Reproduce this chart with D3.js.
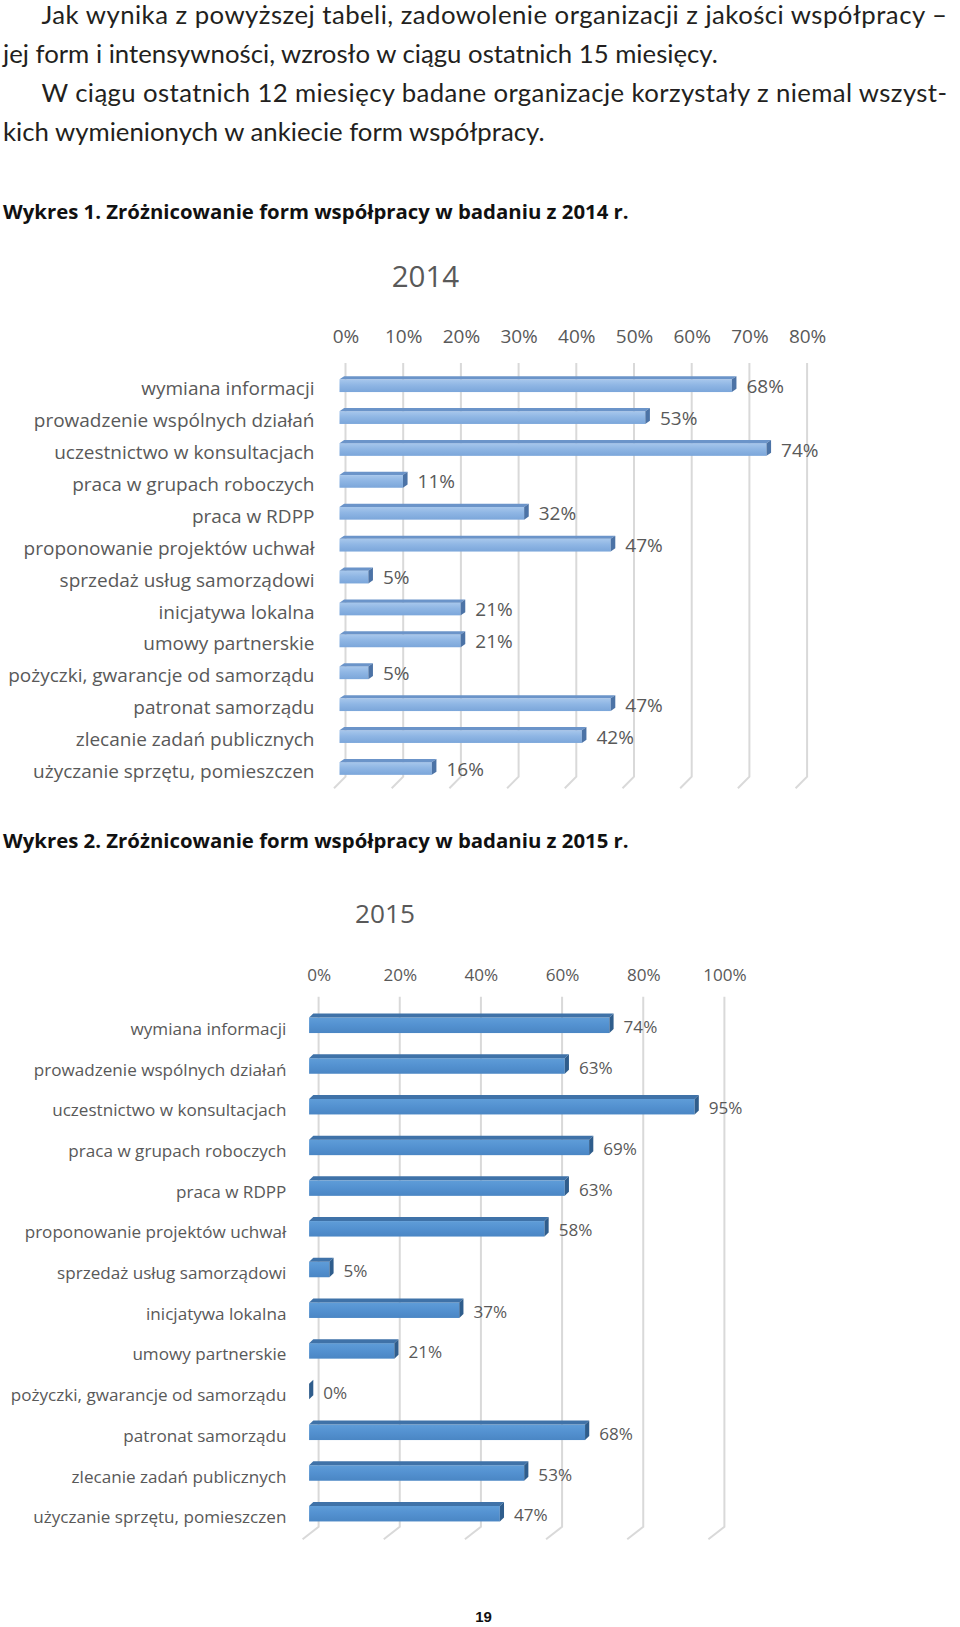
<!DOCTYPE html>
<html><head><meta charset="utf-8">
<script src="https://cdn.jsdelivr.net/npm/d3@7"></script>
<style>html,body{margin:0;padding:0;background:#fff;}svg{display:block;}</style>
</head><body>
<script>
const categories = ["wymiana informacji","prowadzenie wspólnych działań","uczestnictwo w konsultacjach","praca w grupach roboczych","praca w RDPP","proponowanie projektów uchwał","sprzedaż usług samorządowi","inicjatywa lokalna","umowy partnerskie","pożyczki, gwarancje od samorządu","patronat samorządu","zlecanie zadań publicznych","użyczanie sprzętu, pomieszczen"];
const values2014 = [68,53,74,11,32,47,5,21,21,5,47,42,16];
const values2015 = [74,63,95,69,63,58,5,37,21,0,68,53,47];
const ticks2014 = [0,10,20,30,40,50,60,70,80];
const ticks2015 = [0,20,40,60,80,100];
const paragraphLines = [
  {t:"Jak wynika z powyższej tabeli, zadowolenie organizacji z jakości współpracy –", indent:true, justify:true},
  {t:"jej form i intensywności, wzrosło w ciągu ostatnich 15 miesięcy.", indent:false, justify:false},
  {t:"W ciągu ostatnich 12 miesięcy badane organizacje korzystały z niemal wszyst-", indent:true, justify:true},
  {t:"kich wymienionych w ankiecie form współpracy.", indent:false, justify:false}
];
const heading1 = "Wykres 1. Zróżnicowanie form współpracy w badaniu z 2014 r.";
const heading2 = "Wykres 2. Zróżnicowanie form współpracy w badaniu z 2015 r.";
const title2014 = "2014", title2015 = "2015", pageNumber = "19";

const W = 960, H = 1627;
const svg = d3.select("body").append("svg").attr("width", W).attr("height", H);
const defs = svg.append("defs");

function fit(sel, target) {
  const fs = parseFloat(sel.attr("font-size"));
  const w = sel.node().getComputedTextLength();
  sel.attr("font-size", fs * target / w);
  return fs * target / w;
}

// Paragraph text
const bodyFont = "Lato, 'Open Sans', sans-serif";
const base = [23.5, 62.7, 101.9, 141.1];
const probe = svg.append("text").attr("font-family", bodyFont).attr("font-size", 24).text(paragraphLines[1].t);
const bodySize = fit(probe, 715);
probe.remove();
paragraphLines.forEach((l, i) => {
  const x0 = l.indent ? 41.5 : 3;
  const t = svg.append("text").attr("x", x0).attr("y", base[i])
    .attr("font-family", bodyFont).attr("font-size", bodySize).attr("fill", "#231f20").text(l.t);
  if (l.justify) t.attr("textLength", (l.indent ? 947 : 950) - x0).attr("lengthAdjust", "spacing");
});

// headings
[[heading1, 219], [heading2, 848]].forEach(([s, y]) => {
  const t = svg.append("text").attr("x", 3).attr("y", y).attr("font-family", "'Open Sans', sans-serif")
    .attr("font-weight", 700).attr("font-size", 20).attr("fill", "#111").text(s);
  fit(t, 626);
});

svg.append("text").attr("x", 483.6).attr("y", 1622).attr("text-anchor", "middle")
  .attr("font-family", "'Liberation Sans', Arial, sans-serif").attr("font-weight", 700)
  .attr("font-size", 15).attr("fill", "#111").text(pageNumber);

function gradient(id, c0, c1, c2) {
  const g = defs.append("linearGradient").attr("id", id).attr("x1", 0).attr("y1", 0).attr("x2", 0).attr("y2", 1);
  g.append("stop").attr("offset", "0%").attr("stop-color", c0);
  g.append("stop").attr("offset", "45%").attr("stop-color", c1);
  g.append("stop").attr("offset", "100%").attr("stop-color", c2);
}
gradient("g2014", "#a7c7ec", "#8fb6e4", "#7ba6da");
gradient("g2015", "#5f9dd8", "#5492d1", "#4a86c4");

function chart(cfg) {
  const x = d3.scaleLinear().domain(cfg.domain).range(cfg.xRange);
  const y = d3.scalePoint().domain(categories).range(cfg.yRange);
  const g = svg.append("g");
  const font = "'Open Sans', sans-serif";

  const tt = g.append("text").attr("x", cfg.titleX).attr("y", cfg.titleY).attr("text-anchor", "middle")
    .attr("dominant-baseline", "central").attr("font-family", font).attr("font-size", 30)
    .attr("fill", "#595959").text(cfg.title);
  fit(tt, cfg.titleW);

  const grid = g.append("g");
  cfg.ticks.forEach(v => {
    const gx = x(v);
    grid.append("path").attr("d", `M${gx},${cfg.gridTop}V${cfg.gridBottom}l${-cfg.slantX},${cfg.slantY}`)
      .attr("fill", "none").attr("stroke", "#d9d9d9").attr("stroke-width", 2);
  });

  const axis = d3.axisTop(x).tickValues(cfg.ticks).tickFormat(d => d + "%").tickSize(0).tickPadding(0);
  const ax = g.append("g").attr("transform", `translate(0,${cfg.tickY})`).call(axis);
  ax.select(".domain").remove();
  ax.selectAll("text").attr("font-family", font).attr("font-size", cfg.fs).attr("fill", "#595959")
    .attr("dy", null).attr("y", 0).attr("dominant-baseline", "central");

  const cats = g.selectAll("text.cat").data(categories).join("text").attr("class", "cat")
    .attr("x", cfg.labelX).attr("y", d => y(d) + cfg.labelDy).attr("text-anchor", "end")
    .attr("dominant-baseline", "central").attr("font-family", font).attr("font-size", cfg.fs)
    .attr("fill", "#595959").text(d => d);

  const h = cfg.barH, t = cfg.depthY, dd = cfg.depthX, off = cfg.off;
  const bars = g.selectAll("g.bar").data(cfg.values.map((v, i) => ({v, c: categories[i]}))).join("g").attr("class", "bar");
  bars.each(function(d) {
    const b = d3.select(this);
    const xf0 = x(0) - off, xf1 = x(d.v) - off;
    const yt = y(d.c) - h / 2;
    if (xf1 > xf0) {
      b.append("rect").attr("x", xf0).attr("y", yt).attr("width", xf1 - xf0).attr("height", h)
        .attr("fill", `url(#${cfg.grad})`);
      b.append("path").attr("d", `M${xf0},${yt}L${xf0 + dd},${yt - t}L${xf1 + dd},${yt - t}L${xf1},${yt}Z`)
        .attr("fill", cfg.topColor);
    }
    b.append("path").attr("d", `M${xf1},${yt}L${xf1 + dd},${yt - t}L${xf1 + dd},${yt + h - t}L${xf1},${yt + h}Z`)
      .attr("fill", cfg.sideColor);
  });

  g.selectAll("text.val").data(cfg.values).join("text").attr("class", "val")
    .attr("x", (v) => x(v) + cfg.valDx).attr("y", (v, i) => y(categories[i]) + cfg.valDy)
    .attr("dominant-baseline", "central").attr("font-family", font).attr("font-size", cfg.fs)
    .attr("fill", "#595959").text(v => v + "%");
}

chart({
  title: title2014, titleX: 425.5, titleY: 275, titleW: 67.5,
  domain: [0, 80], xRange: [345.5, 345.5 + 461.6], yRange: [385.7, 385.7 + 12 * 31.9],
  ticks: ticks2014, tickY: 336, gridTop: 363, gridBottom: 776.7, slantX: 11.5, slantY: 11.5,
  labelX: 314.5, labelDy: 2.5, fs: 19, values: values2014,
  barH: 12.7, depthY: 3.2, depthX: 4.6, off: 6, valDx: 8.6, valDy: 0,
  grad: "g2014", topColor: "#6b94c9", sideColor: "#4c73a6"
});

chart({
  title: title2015, titleX: 385, titleY: 913, titleW: 60,
  domain: [0, 100], xRange: [318.6, 318.6 + 405.8], yRange: [1025.3, 1025.3 + 12 * 40.7],
  ticks: ticks2015, tickY: 974, gridTop: 996.7, gridBottom: 1526.7, slantX: 16, slantY: 12.5,
  labelX: 286.4, labelDy: 3, fs: 17.1, values: values2015,
  barH: 15.5, depthY: 4, depthX: 4.2, off: 9.5, valDx: 4.7, valDy: 1,
  grad: "g2015", topColor: "#3f72a8", sideColor: "#2f5d8c"
});
</script>
</body></html>
